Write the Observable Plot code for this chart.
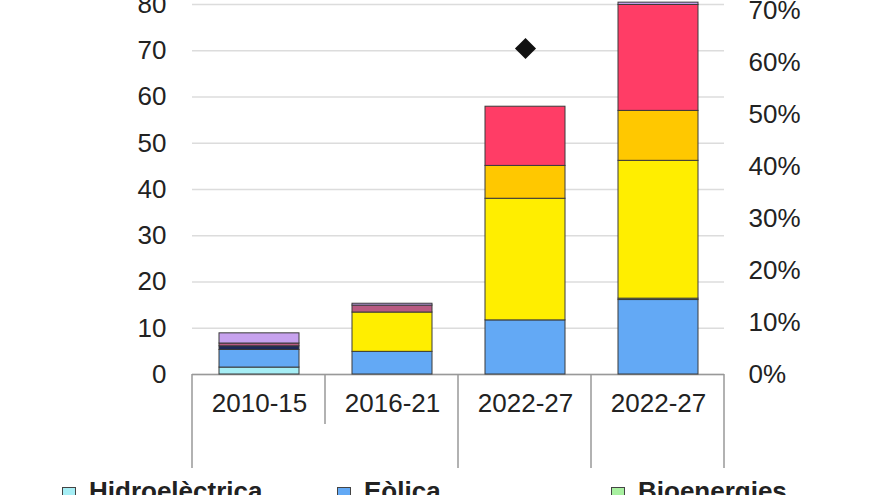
<!DOCTYPE html>
<html>
<head>
<meta charset="utf-8">
<script src="https://cdn.jsdelivr.net/npm/d3@7"></script>
<script src="https://cdn.jsdelivr.net/npm/@observablehq/plot@0.6"></script>
<style>
  html, body { margin: 0; padding: 0; background: #fff; overflow: hidden; }
  #chart { position: relative; width: 880px; height: 495px; }
  .legend { position: absolute; top: 478px; left: 0; width: 880px; height: 30px;
    font-family: "Liberation Sans", Arial, sans-serif; font-size: 26px; font-weight: bold; color: #222; }
  .legend .item { position: absolute; top: 0; line-height: 26px; white-space: nowrap; }
  .legend .sw { display: inline-block; width: 12px; height: 12px; border: 1px solid #444; margin-right: 13px; vertical-align: -1px; }
</style>
</head>
<body>
<div id="chart"></div>
<script>
// ---- data ----
const categories = ["2010-15", "2016-21", "2022-27", "2022-27"];
const groupBoundaryLong = [true, false, true, true, true];

const seriesNames = ["Hidroelèctrica", "Eòlica", "Bioenergies", "Solar FV a escala", "Solar FV distribuïda", "Solar FV (altres)", "Geotèrmica", "Marina", "Altres"];
const seriesColors = ["#a6eef5", "#63a9f5", "#a8f0a0", "#ffee00", "#ffc800", "#ff3d66", "#1e2a5a", "#b85a82", "#c7a2ee"];

const hidro      = [1.5, 0.0, 0.0, 0.0];
const eolica     = [3.8, 4.9, 11.7, 16.1];
const bio        = [0.0, 0.0, 0.0, 0.3];
const solarFV    = [0.0, 8.5, 26.3, 29.8];
const solarDist  = [0.0, 0.0, 7.1, 10.8];
const solarAltres= [0.0, 0.0, 12.8, 22.9];
const geoterm    = [0.8, 0.0, 0.0, 0.0];
const marina     = [0.6, 1.5, 0.0, 0.0];
const altres     = [2.2, 0.4, 0.0, 0.5];
const sharePct   = [null, null, 62.7, null];

const leftTicks = [0, 10, 20, 30, 40, 50, 60, 70, 80];
const rightTicks = [0, 10, 20, 30, 40, 50, 60, 70];
const pctScale = 80 / 71.15; // left-axis units per 1% on the right axis

const seriesValues = [hidro, eolica, bio, solarFV, solarDist, solarAltres, geoterm, marina, altres];

const rows = [];
seriesValues.forEach((vals, s) => vals.forEach((v, i) => {
  if (v > 0) rows.push({idx: i, series: seriesNames[s], value: v});
}));
const shareRows = sharePct.map((p, i) => ({idx: i, share: p})).filter(d => d.share != null);

// separators of the two-level category axis
function separators(index, scales, values, dims) {
  const left = dims.marginLeft, right = dims.width - dims.marginRight;
  const n = categories.length;
  const step = (right - left) / n;
  const y0 = scales.y(0);
  const g = d3.create("svg:g");
  groupBoundaryLong.forEach((isLong, i) => {
    const xx = left + i * step;
    g.append("line")
      .attr("x1", xx).attr("x2", xx)
      .attr("y1", y0).attr("y2", y0 + (isLong ? 94 : 50))
      .attr("stroke", "#999").attr("stroke-width", 1.5);
  });
  return g.node();
}

const H = 476;
const plot = Plot.plot({
  width: 880,
  height: H,
  marginLeft: 192,
  marginRight: 156,
  marginTop: 4,
  marginBottom: H - 374,
  style: {fontSize: "26px", fontFamily: "Liberation Sans, Arial, sans-serif", color: "#222", background: "#fff", overflow: "visible"},
  x: {domain: d3.range(categories.length), paddingInner: 0.4, paddingOuter: 0.2, axis: null},
  y: {domain: [0, 80], axis: null},
  color: {domain: seriesNames, range: seriesColors},
  marks: [
    Plot.gridY(leftTicks, {stroke: "#dcdcdc", strokeOpacity: 1, strokeWidth: 1.5}),
    Plot.axisY(leftTicks, {anchor: "left", tickSize: 0, tickPadding: 26, label: null, fill: "#222"}),
    Plot.axisY(rightTicks.map(p => p * pctScale), {anchor: "right", tickSize: 0, tickPadding: 24, label: null, fill: "#222", tickFormat: d => Math.round(d / pctScale) + "%"}),
    Plot.axisX({tickSize: 0, tickPadding: 19, label: null, fill: "#222", tickFormat: i => categories[i]}),
    Plot.ruleY([0], {stroke: "#999", strokeWidth: 1.5}),
    separators,
    Plot.barY(rows, {x: "idx", y: "value", fill: "series", order: seriesNames, stroke: "#3a3a3a", strokeWidth: 1}),
    Plot.dot(shareRows, {x: "idx", y: d => d.share * pctScale, symbol: "diamond2", r: 9.5, fill: "#111", stroke: "none"})
  ]
});
document.getElementById("chart").appendChild(plot);

// legend (first row visible)
const legendItems = [
  {name: seriesNames[0], color: seriesColors[0], left: 62},
  {name: seriesNames[1], color: seriesColors[1], left: 337},
  {name: seriesNames[2], color: seriesColors[2], left: 611}
];
const leg = document.createElement("div");
leg.className = "legend";
legendItems.forEach(it => {
  const d = document.createElement("div");
  d.className = "item";
  d.style.left = it.left + "px";
  const sw = document.createElement("span");
  sw.className = "sw";
  sw.style.background = it.color;
  d.appendChild(sw);
  d.appendChild(document.createTextNode(it.name));
  leg.appendChild(d);
});
document.getElementById("chart").appendChild(leg);
</script>
</body>
</html>
